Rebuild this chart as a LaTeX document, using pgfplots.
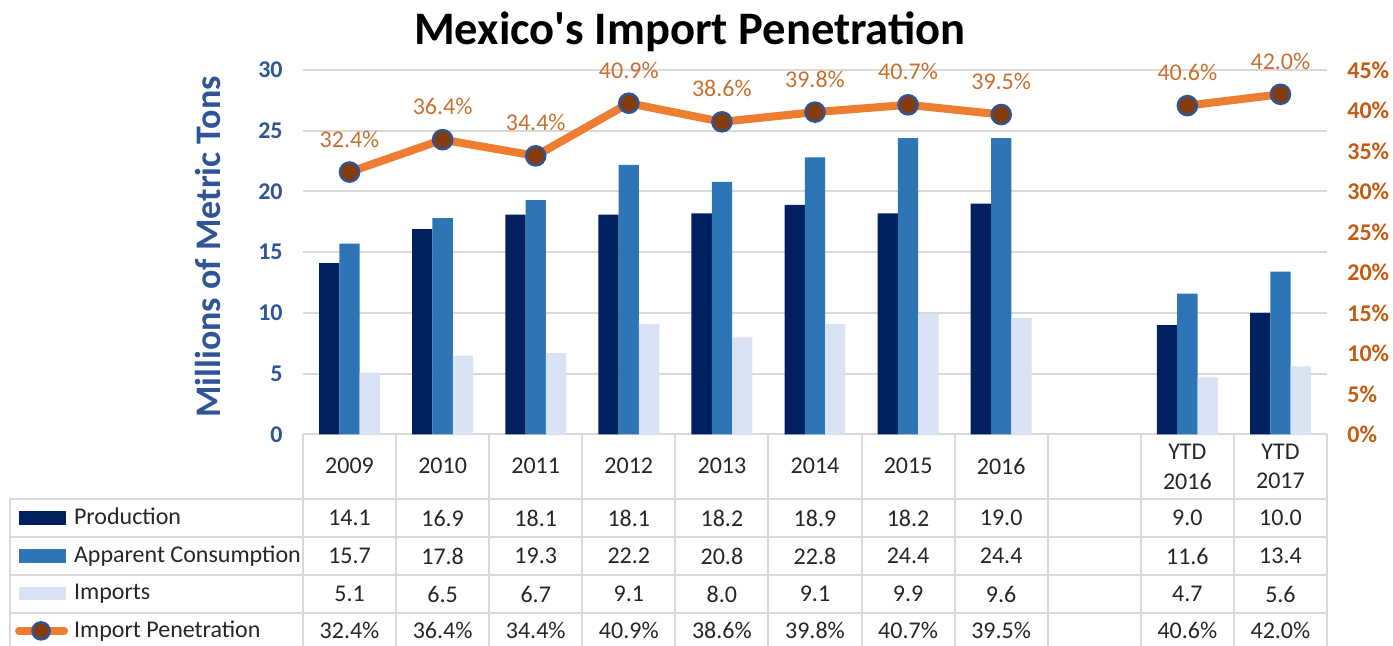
\documentclass[border=0pt]{standalone}
\usepackage{pgfplots}
\pgfplotsset{compat=1.18}
\usepackage{fontspec}
\setmainfont{Carlito}
\definecolor{prod}{HTML}{002060}
\definecolor{cons}{HTML}{2E75B6}
\definecolor{impc}{HTML}{DAE3F3}
\definecolor{lineor}{HTML}{ED7D31}
\definecolor{mkfill}{HTML}{843C0C}
\definecolor{mkedge}{HTML}{2F5597}
\definecolor{tickblue}{HTML}{2F5597}
\definecolor{tickor}{HTML}{C55A11}
\definecolor{labor}{HTML}{C8702F}
\definecolor{gridc}{HTML}{D9D9D9}
\definecolor{txt}{HTML}{262626}
\newcommand{\tf}{\fontsize{12}{14}\selectfont}
\begin{document}
\begin{tikzpicture}
\path[use as bounding box] (0,0) rectangle (696.5pt,-323pt);
% ---- table grid and text (pixel coordinates of the reference) ----
\begin{scope}[x=0.5pt,y=-0.5pt]
\draw[gridc, line width=1pt] (303,434.5) -- (1327,434.5);
\foreach \y in {499,537,575,613} \draw[gridc, line width=1pt] (10,\y) -- (1327,\y);
\draw[gridc, line width=1pt] (10,499) -- (10,646);
\foreach \k in {0,...,11} \draw[gridc, line width=1pt] ({303+93.09*\k},434.5) -- ({303+93.09*\k},646);
\foreach \c/\v in {0/2009,1/2010,2/2011,3/2012,4/2013,5/2014,6/2015,7/2016}
  \node[font=\tf, text=txt] at ({303+93.09*(\c+0.5)},466) {\v};
\node[font=\tf, text=txt] at ({303+93.09*9.5},452) {YTD};
\node[font=\tf, text=txt] at ({303+93.09*9.5},481) {2016};
\node[font=\tf, text=txt] at ({303+93.09*10.5},452) {YTD};
\node[font=\tf, text=txt] at ({303+93.09*10.5},481) {2017};
\foreach \c/\v in {0/14.1,1/16.9,2/18.1,3/18.1,4/18.2,5/18.9,6/18.2,7/19.0,9/9.0,10/10.0}
  \node[font=\tf, text=txt] at ({303+93.09*(\c+0.5)},518) {\v};
\foreach \c/\v in {0/15.7,1/17.8,2/19.3,3/22.2,4/20.8,5/22.8,6/24.4,7/24.4,9/11.6,10/13.4}
  \node[font=\tf, text=txt] at ({303+93.09*(\c+0.5)},556) {\v};
\foreach \c/\v in {0/5.1,1/6.5,2/6.7,3/9.1,4/8.0,5/9.1,6/9.9,7/9.6,9/4.7,10/5.6}
  \node[font=\tf, text=txt] at ({303+93.09*(\c+0.5)},594) {\v};
\foreach \c/\v in {0/32.4,1/36.4,2/34.4,3/40.9,4/38.6,5/39.8,6/40.7,7/39.5,9/40.6,10/42.0}
  \node[font=\tf, text=txt] at ({303+93.09*(\c+0.5)},630) {\v\%};
\node[font=\fontsize{23.3}{28}\selectfont\bfseries] at (690,32) {Mexico\textquotesingle s Import Penetration};
\node[rotate=90, font=\fontsize{18}{22}\selectfont\bfseries, text=tickblue] at (208,247) {Millions of Metric Tons};
\end{scope}
% ---- bars ----
\begin{axis}[
  at={(151.5pt,-217.25pt)}, anchor=south west,
  scale only axis, width=512pt, height=182.25pt,
  xmin=-0.5, xmax=10.5, ymin=0, ymax=30,
  xtick=\empty, ytick={0,5,...,30},
  ymajorgrids, grid style={draw=gridc, line width=1pt},
  axis line style={draw=none}, tick style={draw=none}, major tick length=0pt,
  /pgf/number format/assume math mode=true,
  yticklabel style={font=\tf\bfseries, text=tickblue, inner sep=0pt, xshift=-10pt},
  ybar=0pt, bar width=10.15pt,
]
\addplot[fill=prod, draw=none] coordinates {(0,14.1)(1,16.9)(2,18.1)(3,18.1)(4,18.2)(5,18.9)(6,18.2)(7,19.0)(9,9.0)(10,10.0)};
\addplot[fill=cons, draw=none] coordinates {(0,15.7)(1,17.8)(2,19.3)(3,22.2)(4,20.8)(5,22.8)(6,24.4)(7,24.4)(9,11.6)(10,13.4)};
\addplot[fill=impc, draw=none] coordinates {(0,5.1)(1,6.5)(2,6.7)(3,9.1)(4,8.0)(5,9.1)(6,9.9)(7,9.6)(9,4.7)(10,5.6)};
\end{axis}
% ---- line ----
\begin{axis}[
  at={(151.5pt,-217.25pt)}, anchor=south west,
  scale only axis, width=512pt, height=182.25pt,
  xmin=-0.5, xmax=10.5, ymin=0, ymax=45,
  axis x line=none, axis y line*=right,
  xtick=\empty, ytick={0,5,...,45},
  axis line style={draw=none}, tick style={draw=none}, major tick length=0pt,
  /pgf/number format/assume math mode=true,
  yticklabel={\pgfmathprintnumber{\tick}\%},
  yticklabel style={font=\tf\bfseries, text=tickor, inner sep=0pt, xshift=10pt},
  clip=false, unbounded coords=jump,
  legend cell align=left,
  legend style={at={(-0.2890,-0.1778)}, anchor=north west, draw=none, fill=none,
    inner sep=0pt, outer sep=0pt, row sep=0pt, column sep=0pt,
    font=\tf, text=txt, nodes={inner sep=0pt, minimum height=18.8pt}},
]
\addlegendimage{legend image code/.code={\path (0pt,0pt) (29.5pt,0pt); \fill[prod] (4pt,-3.2pt) rectangle (27pt,3.2pt);}}
\addlegendentry{Production}
\addlegendimage{legend image code/.code={\path (0pt,0pt) (29.5pt,0pt); \fill[cons] (4pt,-3.2pt) rectangle (27pt,3.2pt);}}
\addlegendentry{Apparent Consumption}
\addlegendimage{legend image code/.code={\path (0pt,0pt) (29.5pt,0pt); \fill[impc] (4pt,-3.2pt) rectangle (27pt,3.2pt);}}
\addlegendentry{Imports}
\addplot[color=lineor, line width=4pt, mark=*, mark size=4.8pt,
  mark options={fill=mkfill, draw=mkedge, line width=1.2pt},
  point meta=y,
  nodes near coords={\pgfmathprintnumber[fixed,fixed zerofill,precision=1]{\pgfplotspointmeta}\%},
  every node near coord/.append style={font=\tf, text=labor, anchor=center, yshift=16.5pt},
  legend image code/.code={\path (0pt,0pt) (29.5pt,0pt);
    \draw[lineor, line width=4pt, line cap=round] (4pt,0pt) -- (26.5pt,0pt);
    \draw[fill=mkfill, draw=mkedge, line width=1.2pt] (15pt,0pt) circle (4.3pt);}]
 coordinates {(0,32.4)(1,36.4)(2,34.4)(3,40.9)(4,38.6)(5,39.8)(6,40.7)(7,39.5)(8,nan)(9,40.6)(10,42.0)};
\addlegendentry{Import Penetration}
\end{axis}
\end{tikzpicture}
\end{document}
